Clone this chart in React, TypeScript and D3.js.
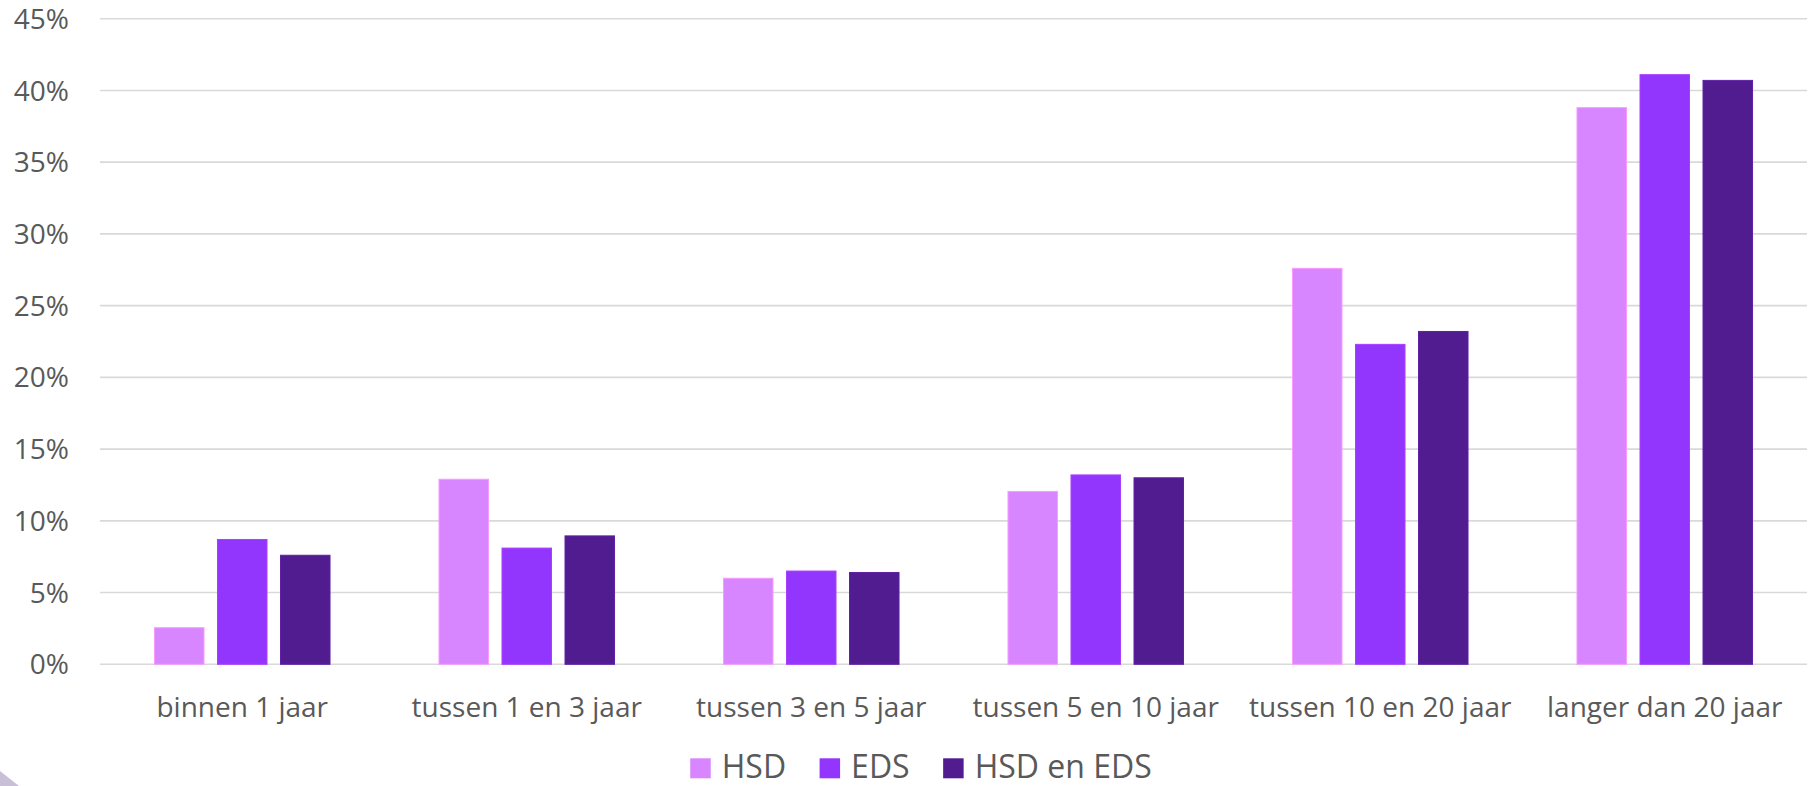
import React, { useEffect, useRef } from "react";
import * as d3 from "d3";

const categories = [
  "binnen 1 jaar",
  "tussen 1 en 3 jaar",
  "tussen 3 en 5 jaar",
  "tussen 5 en 10 jaar",
  "tussen 10 en 20 jaar",
  "langer dan 20 jaar",
];
const seriesNames = ["HSD", "EDS", "HSD en EDS"];
const hsd = [2.55, 12.9, 6.0, 12.05, 27.6, 38.8];
const eds = [8.7, 8.1, 6.5, 13.2, 22.3, 41.1];
const hsdEds = [7.6, 8.95, 6.4, 13.0, 23.2, 40.7];
const seriesColors = ["#D886FF", "#9336FD", "#521C91"];
const yTicks = [0, 5, 10, 15, 20, 25, 30, 35, 40, 45];

const W = 1812;
const H = 786;
const FONT = "'Open Sans', sans-serif";
const TEXT = "#595959";

export default function App() {
  const ref = useRef<SVGSVGElement | null>(null);

  useEffect(() => {
    const svg = d3.select(ref.current);
    svg.selectAll("*").remove();

    const left = 100, right = 1807, top = 18.7, bottom = 664.3;
    const x = d3.scaleBand<string>().domain(categories).range([left, right]).padding(0);
    const y = d3.scaleLinear().domain([0, 45]).range([bottom, top]);
    const bw = x.bandwidth();
    const barW = bw * 0.174;
    const step = bw * 0.2215;

    // decorative corner
    svg.append("polygon")
      .attr("points", "0,771 19,786 0,786")
      .attr("fill", "#c9bfd6");

    // gridlines
    svg.append("g").selectAll("line").data(yTicks).join("line")
      .attr("x1", left).attr("x2", right)
      .attr("y1", (d) => y(d)).attr("y2", (d) => y(d))
      .attr("stroke", "#d9d9d9").attr("stroke-width", 1.6);

    // y labels
    svg.append("g").selectAll("text").data(yTicks).join("text")
      .attr("x", 69).attr("y", (d) => y(d)).attr("dy", "0.36em")
      .attr("text-anchor", "end")
      .attr("font-family", FONT).attr("font-size", 28).attr("fill", TEXT)
      .text((d) => `${d}%`);

    const series = [hsd, eds, hsdEds];
    series.forEach((vals, si) => {
      svg.append("g").selectAll("rect").data(vals).join("rect")
        .attr("x", (_d, i) => (x(categories[i]) as number) + bw / 2 + (si - 1) * step - barW / 2)
        .attr("width", barW)
        .attr("y", (d) => y(d))
        .attr("height", (d) => y(0) - y(d))
        .attr("fill", seriesColors[si])
        .attr("stroke", d3.color(seriesColors[si])!.brighter(0.4).formatHex())
        .attr("stroke-width", 1);
    });

    // category labels
    svg.append("g").selectAll("text").data(categories).join("text")
      .attr("x", (d) => (x(d) as number) + bw / 2)
      .attr("y", 716.5)
      .attr("text-anchor", "middle")
      .attr("font-family", FONT).attr("font-size", 28).attr("fill", TEXT)
      .text((d) => d);

    // legend
    const lg = svg.append("g");
    const items = seriesNames.map((name, i) => {
      const g = lg.append("g");
      g.append("rect").attr("x", 0).attr("y", -20).attr("width", 20.5).attr("height", 20)
        .attr("fill", seriesColors[i]);
      const t = g.append("text").attr("x", 31.5).attr("y", 0)
        .attr("font-family", FONT).attr("font-size", 32).attr("fill", TEXT).text(name);
      const tw = (t.node() as SVGTextElement).getComputedTextLength();
      return { g, w: 31.5 + tw };
    });
    const gap = 33.5;
    const total = d3.sum(items, (d) => d.w) + gap * (items.length - 1);
    let cx = 921 - total / 2;
    items.forEach((it) => {
      it.g.attr("transform", `translate(${cx},778.3)`);
      cx += it.w + gap;
    });
  }, []);

  return (
    <svg
      ref={ref}
      width={W}
      height={H}
      style={{ position: "absolute", left: 0, top: 0, background: "#fff" }}
    />
  );
}
